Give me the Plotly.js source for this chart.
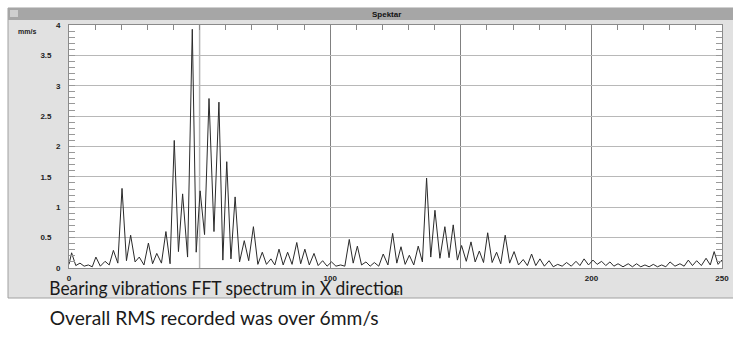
<!DOCTYPE html>
<html><head><meta charset="utf-8">
<script src="https://cdn.plot.ly/plotly-3.0.1.min.js"></script>
<style>html,body{margin:0;padding:0;background:#fff;}#chart{width:733px;height:341px;}</style>
</head><body><div id="chart"></div>
<script>
// Spectrum peaks (Hz, mm/s)
const peakHz = [1.0,4.2,7.4,10.3,13.8,17.0,20.3,23.6,26.9,30.4,33.6,37.1,40.3,43.5,47.2,50.2,53.6,57.4,60.4,63.6,67.1,70.6,74.0,77.3,80.4,83.7,87.2,90.3,93.8,97.1,100.5,104.0,107.3,110.4,113.7,116.9,120.3,123.9,127.1,130.3,133.7,136.9,140.1,143.9,147.1,150.3,153.9,157.1,160.3,163.7,167.0,170.4,173.9,177.1,180.3,183.8,187.1,190.5,194.1,197.2,200.6,203.9,207.1,210.2,214.1,217.3,220.5,223.7,226.9,230.1,233.9,237.1,240.3,243.9,247.0,249.9];
const peakAmp = [0.25,0.08,0.05,0.18,0.11,0.29,1.31,0.54,0.18,0.41,0.24,0.60,2.10,1.22,3.93,1.27,2.79,2.73,1.75,1.17,0.45,0.68,0.26,0.15,0.31,0.26,0.42,0.31,0.24,0.12,0.10,0.05,0.47,0.36,0.10,0.09,0.23,0.57,0.35,0.21,0.36,1.48,0.95,0.68,0.71,0.37,0.43,0.28,0.58,0.26,0.54,0.27,0.14,0.23,0.15,0.12,0.06,0.09,0.11,0.15,0.13,0.11,0.10,0.07,0.07,0.07,0.05,0.06,0.05,0.10,0.07,0.13,0.12,0.16,0.27,0.13];
// Spectrum valleys between peaks (Hz, mm/s)
const valleyHz = [0,2.6,5.8,8.9,12.0,15.4,18.7,22.0,25.3,28.7,32.0,35.4,38.7,41.9,45.4,48.7,51.9,55.5,58.9,62.0,65.3,68.8,72.3,75.6,78.8,82.0,85.4,88.7,92.0,95.4,98.8,102.2,105.6,108.8,112.0,115.3,118.6,122.1,125.5,128.7,132.0,135.3,138.5,142.0,145.5,148.7,152.1,155.5,158.7,162.0,165.3,168.7,172.1,175.5,178.7,182.0,185.4,188.8,192.3,195.6,198.9,202.2,205.5,208.6,212.1,215.7,218.9,222.1,225.3,228.5,232.0,235.5,238.7,242.1,245.5,248.5,250.0];
const valleyAmp = [0.06,0.04,0.03,0.02,0.03,0.05,0.08,0.12,0.10,0.05,0.07,0.08,0.07,0.27,0.18,0.26,0.55,0.60,0.13,0.15,0.10,0.12,0.06,0.06,0.05,0.05,0.06,0.07,0.05,0.04,0.03,0.03,0.03,0.08,0.05,0.03,0.03,0.05,0.08,0.06,0.05,0.10,0.18,0.16,0.17,0.13,0.11,0.10,0.09,0.09,0.07,0.08,0.05,0.04,0.04,0.03,0.02,0.03,0.03,0.04,0.05,0.06,0.04,0.03,0.02,0.02,0.02,0.02,0.02,0.02,0.03,0.03,0.04,0.04,0.05,0.06,0.10];
const yTickVals = [0,0.5,1,1.5,2,2.5,3,3.5,4];
const yTickText = ['0','0.5','1','1.5','2','2.5','3','3.5','4'];
const xTickVals = [0,100,150,200,250];
const xTickText = ['0','100','','200','250'];
const cursorHz = 50;
const caption1 = 'Bearing vibrations FFT spectrum in X direction';
const caption2 = 'Overall RMS recorded was over 6mm/s';

const pts = peakHz.map((f,i)=>[f,peakAmp[i]]).concat(valleyHz.map((f,i)=>[f,valleyAmp[i]])).sort((a,b)=>a[0]-b[0]);

const PL=69, PR=722, PT=25, PB=268;
const W=PR-PL, H=PB-PT;
const px=(x)=>(x-PL)/W, py=(y)=>(PB-y)/H;

const capFamily='Lato, sans-serif';
const capSize=20;
const capLeft=49;
const capWidths={}; capWidths[caption1]=354; capWidths[caption2]=329;

const pad='\u00a0\u00a0\u00a0\u00a0';
const yText=yTickText.map(t=>t.indexOf('.')>=0?t+pad:t);

const tickFont={family:'Liberation Sans, Arial, sans-serif',size:8,color:'#222',weight:'bold'};

const data=[
 {type:'scatter',mode:'lines',x:pts.map(p=>p[0]),y:pts.map(p=>p[1]),line:{color:'#2a2a2a',width:1},hoverinfo:'skip',showlegend:false},
 {type:'scatter',mode:'lines',x:[],y:[],xaxis:'x2',yaxis:'y',showlegend:false}
];

const layout={
 width:733,height:341,
 margin:{l:PL,r:733-PR,t:PT,b:341-PB,pad:0},
 paper_bgcolor:'#ffffff',plot_bgcolor:'rgba(0,0,0,0)',
 showlegend:false,
 xaxis:{range:[0,250],tickvals:xTickVals,ticktext:xTickText,showgrid:true,gridcolor:'#808080',gridwidth:1,
   zeroline:false,showline:true,mirror:true,linecolor:'#8a8a8a',linewidth:1,ticks:'',tickfont:tickFont,ticklabelstandoff:2},
 xaxis2:{range:[0,250],overlaying:'x',side:'top',dtick:10,tick0:0,ticks:'inside',ticklen:5,tickcolor:'#888',
   showticklabels:false,showgrid:false,zeroline:false,showline:false},
 yaxis:{range:[0,4],tickvals:yTickVals,ticktext:yText,showgrid:true,gridcolor:'#b8b8b8',gridwidth:1,
   zeroline:false,showline:true,mirror:'allticks',linecolor:'#8a8a8a',linewidth:1,
   ticks:'inside',ticklen:6,tickcolor:'#999',tickfont:tickFont,ticklabelstandoff:6,
   minor:{dtick:0.1,tick0:0,ticks:'inside',ticklen:5,tickcolor:'#999',showgrid:false}},
 shapes:[
  {type:'rect',xref:'paper',yref:'paper',x0:px(8),x1:px(740),y0:py(298),y1:py(8),fillcolor:'#e1e1e1',line:{color:'#a0a0a0',width:1},layer:'below'},
  {type:'rect',xref:'paper',yref:'paper',x0:px(8),x1:px(740),y0:py(20),y1:py(8),fillcolor:'#a6a6a6',line:{width:0},layer:'below'},
  {type:'rect',xref:'paper',yref:'paper',x0:px(10),x1:px(18),y0:py(17),y1:py(10),fillcolor:'#cfcfcf',line:{width:0},layer:'below'},
  {type:'rect',xref:'paper',yref:'paper',x0:0,x1:1,y0:0,y1:1,fillcolor:'#ffffff',line:{width:0},layer:'below'},
  {type:'line',xref:'x',yref:'paper',x0:cursorHz,x1:cursorHz,y0:0,y1:1,line:{color:'#b4b4b4',width:1.5},layer:'below'}
 ],
 annotations:[
  {xref:'paper',yref:'paper',x:px(386),y:py(14),text:'Spektar',showarrow:false,xanchor:'center',yanchor:'middle',
   font:{family:'Liberation Sans, Arial, sans-serif',size:8,color:'#111',weight:'bold'}},
  {xref:'paper',yref:'paper',x:px(27),y:py(31),text:'mm/s',showarrow:false,xanchor:'center',yanchor:'middle',
   font:{family:'Liberation Sans, Arial, sans-serif',size:7,color:'#222',weight:'bold'}},
  {xref:'paper',yref:'paper',x:px(396),y:py(292),text:'Hz',showarrow:false,xanchor:'center',yanchor:'middle',
   font:{family:'Liberation Sans, Arial, sans-serif',size:7,color:'#555',weight:'bold'}},
  {xref:'paper',yref:'paper',x:px(capLeft+capWidths[caption1]/2),y:py(287),text:caption1,showarrow:false,xanchor:'center',yanchor:'middle',
   font:{family:capFamily,size:capSize,color:'#1a1a1a'}},
  {xref:'paper',yref:'paper',x:px(capLeft+capWidths[caption2]/2),y:py(317),text:caption2,showarrow:false,xanchor:'center',yanchor:'middle',
   font:{family:capFamily,size:capSize,color:'#1a1a1a'}}
 ]
};
Plotly.newPlot('chart',data,layout,{staticPlot:true,displayModeBar:false}).then(function(){
  document.querySelectorAll('#chart .annotation-text').forEach(function(t){
    const target=capWidths[t.textContent];
    if(target){t.setAttribute('textLength',target);t.setAttribute('lengthAdjust','spacingAndGlyphs');}
  });
});
</script></body></html>
